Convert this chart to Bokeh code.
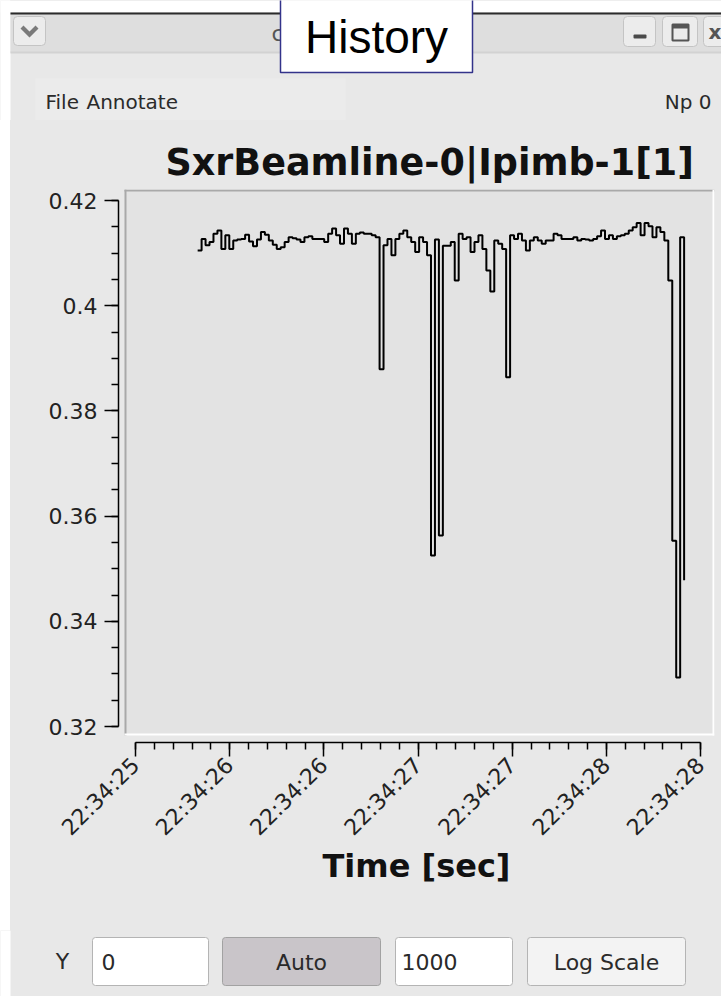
import math
from bokeh.plotting import figure
from bokeh.layouts import column, row
from bokeh.models import Range1d, FixedTicker, BoxAnnotation, Label, PolyAnnotation
from bokeh.embed import file_html
from bokeh.resources import INLINE

# ---------------------------------------------------------------------------
# Ipimb-1 channel 1 history (one reading per sample, seconds after 22:34:25)
# ---------------------------------------------------------------------------
t_start = 0.33
t_step = 0.021
signal = [
    0.4105, 0.4127, 0.4115, 0.4121, 0.4137, 0.4143, 0.4108, 0.4134, 0.4108, 0.4124,
    0.4126, 0.4127, 0.4135, 0.4122, 0.4113, 0.4126, 0.4140, 0.4135, 0.4124, 0.4116,
    0.4108, 0.4111, 0.4121, 0.4130, 0.4128, 0.4126, 0.4121, 0.4130, 0.4132, 0.4127,
    0.4127, 0.4127, 0.4121, 0.4137, 0.4147, 0.4134, 0.4118, 0.4147, 0.4137, 0.4118,
    0.4137, 0.4139, 0.4137, 0.4137, 0.4134, 0.4130, 0.3879, 0.4115, 0.4127, 0.4096,
    0.4127, 0.4137, 0.4143, 0.4130, 0.4121, 0.4102, 0.4130, 0.4121, 0.4096, 0.3525,
    0.4126, 0.3563, 0.4114, 0.4114, 0.4121, 0.4048, 0.4137, 0.4127, 0.4130, 0.4102,
    0.4121, 0.4134, 0.4108, 0.4067, 0.4027, 0.4124, 0.4118, 0.4108, 0.3864, 0.4134,
    0.4127, 0.4137, 0.4124, 0.4105, 0.4124, 0.4130, 0.4124, 0.4118, 0.4124, 0.4124,
    0.4137, 0.4134, 0.4127, 0.4127, 0.4127, 0.4130, 0.4124, 0.4127, 0.4126, 0.4124,
    0.4127, 0.4132, 0.4143, 0.4127, 0.4134, 0.4127, 0.4132, 0.4134, 0.4137, 0.4143,
    0.4149, 0.4157, 0.4134, 0.4157, 0.4151, 0.4130, 0.4149, 0.4140, 0.4124, 0.4048,
    0.3553, 0.3293, 0.4130, 0.3478,
]
time_s = [t_start + i * t_step for i in range(len(signal))]

x_tick_values = [0.0, 0.5, 1.0, 1.5, 2.0, 2.5, 3.0]
x_tick_labels = ["22:34:25", "22:34:26", "22:34:26", "22:34:27",
                 "22:34:27", "22:34:28", "22:34:28"]
y_tick_values = [0.32, 0.34, 0.36, 0.38, 0.40, 0.42]
y_tick_labels = ["0.32", "0.34", "0.36", "0.38", "0.4", "0.42"]

title_text = "SxrBeamline-0|Ipimb-1[1]"
x_label = "Time [sec]"

# ---------------------------------------------------------------------------
# Page geometry (pixels from the top-left corner of the window)
# ---------------------------------------------------------------------------
W, H = 721, 996
EDGE = 10                                    # white desktop strip on the left
TOP_H = 120                                  # title bar + menu bar
BOT_Y = 930                                  # start of the control row
FL, FR, FT, FB = 118, 714, 189, 742          # plotting frame
X0_PX, X1_PX = 135, 700                      # where 0 s and 3 s sit
Y0_PX, Y1_PX = 726, 200                      # where 0.32 and 0.42 sit

WIN_BG = "#e8e8e8"
FONT = "DejaVu Sans"
TXT = "#2a2a2a"


def chrome_fig(y0, y1, width=W, x0=0, bg=WIN_BG):
    f = figure(width=width, height=y1 - y0, x_range=Range1d(x0, x0 + width),
               y_range=Range1d(y1, y0), output_backend="svg",
               toolbar_location=None, x_axis_type=None, y_axis_type=None,
               min_border=0, title=None, outline_line_color=None,
               background_fill_color=bg, border_fill_color=bg)
    f.grid.visible = False
    return f


def box(f, l, r, t, b, fill, line=None, lw=1, radius=0, level="annotation", rng=None):
    kw = dict(x_range_name=rng, y_range_name=rng) if rng else {}
    f.add_layout(BoxAnnotation(left=l, right=r, top=t, bottom=b,
                               fill_color=fill, fill_alpha=1 if fill else 0,
                               line_color=line, line_alpha=1 if line else 0,
                               line_width=lw, border_radius=radius, level=level, **kw))


def text(f, x, y, s, size, align="left", color=TXT, style="normal", font=FONT):
    f.add_layout(Label(x=x, y=y, text=s, text_font=font,
                       text_font_size=f"{size}px", text_font_style=style,
                       text_color=color, text_align=align, text_baseline="middle"))


# ---------------------------------------------------------------------------
# Title bar and menu bar
# ---------------------------------------------------------------------------
top = chrome_fig(0, TOP_H)
box(top, 0, EDGE, 0, TOP_H, "#ffffff")
box(top, 0, W, 0, 12, "#ffffff")
box(top, EDGE, W, 12, 52, "#dedede")
box(top, EDGE, W, 12, 14, "#2b2b2b")
box(top, EDGE, W, 51, 53, "#d2d2d2")
box(top, 13, 45, 16, 45, "#ececec", line="#c4c4c4", radius=4)
top.add_layout(PolyAnnotation(xs=[20, 23, 29, 35, 38, 29], ys=[28, 25, 31, 25, 28, 37],
                              fill_color="#7a7a7a", fill_alpha=1, line_alpha=0))
box(top, 623, 655, 16, 46, "#ececec", line="#c4c4c4", radius=4)
box(top, 633, 646, 34, 38, "#4a4a4a", radius=1)
box(top, 662, 697, 16, 46, "#ececec", line="#c4c4c4", radius=4)
box(top, 672, 688, 24, 40, None, line="#555555", lw=2)
box(top, 672, 688, 24, 28, "#555555")
box(top, 703, W + 10, 16, 46, "#ececec", line="#c4c4c4", radius=4)
text(top, 708, 31, "x", 20, color="#555555", style="bold")
text(top, 271, 33, "c", 22, color="#555555")

# "History" caption
box(top, 280, 472, -2, 72, "#ffffff", line="#33338a", lw=1.5)
text(top, 376, 36, "History", 46, align="center", color="#000000", font="Liberation Sans")

box(top, 35, 345, 78, TOP_H, "#ebebeb")
text(top, 45, 101, "File", 20)
text(top, 86, 101, "Annotate", 20)
text(top, 711, 101, "Np 0", 20, align="right")

# ---------------------------------------------------------------------------
# The history plot
# ---------------------------------------------------------------------------
main_w, main_h = W - EDGE, BOT_Y - TOP_H
sx = (X1_PX - X0_PX) / (x_tick_values[-1] - x_tick_values[0])
sy = (Y0_PX - Y1_PX) / (y_tick_values[-1] - y_tick_values[0])
x_range = Range1d(x_tick_values[0] - (X0_PX - FL) / sx,
                  x_tick_values[0] + (FR - X0_PX) / sx)
y_range = Range1d(y_tick_values[0] - (FB - Y0_PX) / sy,
                  y_tick_values[0] + (Y0_PX - FT) / sy)

p = figure(width=main_w, height=main_h, x_range=x_range, y_range=y_range,
           output_backend="svg", toolbar_location=None,
           min_border_left=FL - EDGE, min_border_right=W - FR,
           min_border_top=FT - TOP_H, min_border_bottom=BOT_Y - FB,
           background_fill_color=WIN_BG, border_fill_color=WIN_BG,
           outline_line_color=None)
p.grid.visible = False
p.extra_x_ranges = {"px": Range1d(FL, FR)}
p.extra_y_ranges = {"px": Range1d(FB, FT)}

# sunken plot area behind the trace
box(p, 124, 714, 189, 735, "#e3e3e3", level="underlay", rng="px")
box(p, 124, 714, 189, 191, "#a9a9a9", level="underlay", rng="px")
box(p, 124, 126, 189, 735, "#a9a9a9", level="underlay", rng="px")
box(p, 124, 714, 733, 735, "#ffffff", level="underlay", rng="px")
box(p, 712, 714, 189, 735, "#ffffff", level="underlay", rng="px")

p.step(time_s, signal, mode="after", line_color="black", line_width=2)

xa = p.xaxis[0]
xa.ticker = FixedTicker(ticks=x_tick_values,
                        minor_ticks=[round(0.1 * k, 1) for k in range(31)])
xa.bounds = (x_tick_values[0], x_tick_values[-1])
xa.major_label_overrides = dict(zip(x_tick_values, x_tick_labels))
xa.major_label_orientation = math.pi / 4
xa.axis_label = x_label
xa.axis_label_text_font = FONT
xa.axis_label_text_font_size = "32px"
xa.axis_label_text_font_style = "bold"
xa.axis_label_text_color = "#111111"
xa.axis_label_standoff = -5

ya = p.yaxis[0]
ya.ticker = FixedTicker(ticks=y_tick_values,
                        minor_ticks=[round(0.32 + 0.005 * k, 3) for k in range(21)])
ya.bounds = (y_tick_values[0], y_tick_values[-1])
ya.major_label_overrides = dict(zip(y_tick_values, y_tick_labels))

for ax in (xa, ya):
    ax.axis_line_color = "black"
    ax.axis_line_width = 1.5
    ax.major_tick_line_color = "black"
    ax.major_tick_line_width = 1.5
    ax.minor_tick_line_color = "black"
    ax.minor_tick_line_width = 1.5
    ax.major_tick_in = 0
    ax.major_tick_out = 14
    ax.minor_tick_in = 0
    ax.minor_tick_out = 7
    ax.major_label_text_font = FONT
    ax.major_label_text_font_size = "22px"
    ax.major_label_text_color = "#222222"
ya.major_label_standoff = 7
xa.major_label_standoff = 5

p.title.text = title_text
p.title.text_font = FONT
p.title.text_font_size = "36.5px"
p.title.text_font_style = "bold"
p.title.text_color = "#111111"
p.title.align = "left"
p.title.offset = 165 - FL
p.title.standoff = 12

# white desktop strip beside the plot
edge = chrome_fig(TOP_H, BOT_Y, width=EDGE, bg="#ffffff")

# ---------------------------------------------------------------------------
# Control row
# ---------------------------------------------------------------------------
bot = chrome_fig(BOT_Y, H)
box(bot, 0, EDGE, BOT_Y, H, "#ffffff")
text(bot, 62, 961, "Y", 22, align="center")
box(bot, 92, 208, 937, 985, "#ffffff", line="#b4b4b4", radius=3)
text(bot, 101, 961, "0", 22)
box(bot, 222, 380, 937, 985, "#c9c5c9", line="#a2a2a2", radius=3)
text(bot, 301, 962, "Auto", 22, align="center")
box(bot, 395, 512, 937, 985, "#ffffff", line="#b4b4b4", radius=3)
text(bot, 401, 961, "1000", 22)
box(bot, 527, 685, 937, 985, "#f3f3f3", line="#b4b4b4", radius=3)
text(bot, 606, 962, "Log Scale", 22, align="center")

page_bg = (f"linear-gradient(to right, #ffffff 0px, #ffffff {EDGE}px, "
           f"{WIN_BG} {EDGE}px, {WIN_BG} 100%)")
page = column(top, row(edge, p, spacing=0), bot, spacing=0,
              styles={"background": page_bg})

open("out.html", "w").write(file_html(page, INLINE))
